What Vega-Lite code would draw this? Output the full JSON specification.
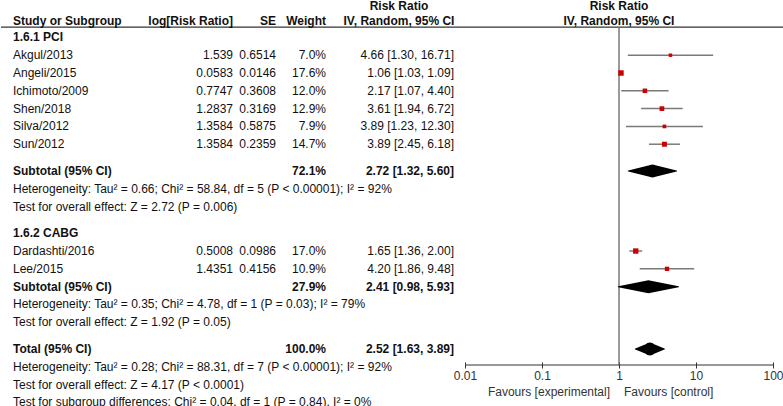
{
  "$schema": "https://vega.github.io/schema/vega-lite/v6.json",
  "width": 783,
  "height": 365,
  "padding": 0,
  "autosize": {"type": "pad"},
  "background": "white",
  "config": {
    "view": {"stroke": null},
    "font": "Liberation Sans",
    "text": {"font": "Liberation Sans", "fontSize": 12, "color": "#111", "baseline": "middle"}
  },
  "datasets": {
    "rows": [
      {"row": 1, "type": "heading", "label": "1.6.1 PCI"},
      {"row": 2, "type": "study", "label": "Akgul/2013", "logrr": "1.539", "se": "0.6514", "weight": "7.0%", "ci": "4.66 [1.30, 16.71]", "rr": 4.66, "lo": 1.30, "hi": 16.71, "w": 7.0},
      {"row": 3, "type": "study", "label": "Angeli/2015", "logrr": "0.0583", "se": "0.0146", "weight": "17.6%", "ci": "1.06 [1.03, 1.09]", "rr": 1.06, "lo": 1.03, "hi": 1.09, "w": 17.6},
      {"row": 4, "type": "study", "label": "Ichimoto/2009", "logrr": "0.7747", "se": "0.3608", "weight": "12.0%", "ci": "2.17 [1.07, 4.40]", "rr": 2.17, "lo": 1.07, "hi": 4.40, "w": 12.0},
      {"row": 5, "type": "study", "label": "Shen/2018", "logrr": "1.2837", "se": "0.3169", "weight": "12.9%", "ci": "3.61 [1.94, 6.72]", "rr": 3.61, "lo": 1.94, "hi": 6.72, "w": 12.9},
      {"row": 6, "type": "study", "label": "Silva/2012", "logrr": "1.3584", "se": "0.5875", "weight": "7.9%", "ci": "3.89 [1.23, 12.30]", "rr": 3.89, "lo": 1.23, "hi": 12.30, "w": 7.9},
      {"row": 7, "type": "study", "label": "Sun/2012", "logrr": "1.3584", "se": "0.2359", "weight": "14.7%", "ci": "3.89 [2.45, 6.18]", "rr": 3.89, "lo": 2.45, "hi": 6.18, "w": 14.7},
      {"row": 8.5, "type": "subtotal", "label": "Subtotal (95% CI)", "weight": "72.1%", "ci": "2.72 [1.32, 5.60]", "rr": 2.72, "lo": 1.32, "hi": 5.60},
      {"row": 9.5, "type": "note", "label": "Heterogeneity: Tau² = 0.66; Chi² = 58.84, df = 5 (P < 0.00001); I² = 92%"},
      {"row": 10.5, "type": "note", "label": "Test for overall effect: Z = 2.72 (P = 0.006)"},
      {"row": 12, "type": "heading", "label": "1.6.2 CABG"},
      {"row": 13, "type": "study", "label": "Dardashti/2016", "logrr": "0.5008", "se": "0.0986", "weight": "17.0%", "ci": "1.65 [1.36, 2.00]", "rr": 1.65, "lo": 1.36, "hi": 2.00, "w": 17.0},
      {"row": 14, "type": "study", "label": "Lee/2015", "logrr": "1.4351", "se": "0.4156", "weight": "10.9%", "ci": "4.20 [1.86, 9.48]", "rr": 4.20, "lo": 1.86, "hi": 9.48, "w": 10.9},
      {"row": 15, "type": "subtotal", "label": "Subtotal (95% CI)", "weight": "27.9%", "ci": "2.41 [0.98, 5.93]", "rr": 2.41, "lo": 0.98, "hi": 5.93},
      {"row": 16, "type": "note", "label": "Heterogeneity: Tau² = 0.35; Chi² = 4.78, df = 1 (P = 0.03); I² = 79%"},
      {"row": 17, "type": "note", "label": "Test for overall effect: Z = 1.92 (P = 0.05)"},
      {"row": 18.5, "type": "total", "label": "Total (95% CI)", "weight": "100.0%", "ci": "2.52 [1.63, 3.89]", "rr": 2.52, "lo": 1.63, "hi": 3.89},
      {"row": 19.5, "type": "note", "label": "Heterogeneity: Tau² = 0.28; Chi² = 88.31, df = 7 (P < 0.00001); I² = 92%"},
      {"row": 20.5, "type": "note", "label": "Test for overall effect: Z = 4.17 (P < 0.0001)"},
      {"row": 21.5, "type": "note", "label": "Test for subgroup differences: Chi² = 0.04, df = 1 (P = 0.84), I² = 0%"}
    ],
    "headers": [
      {"row": -0.74, "text": "Risk Ratio"},
      {"row": 0.1, "text": "IV, Random, 95% CI"}
    ]
  },
  "data": {"name": "rows"},
  "layer": [
    {
      "data": {"values": [{}]},
      "mark": {"type": "rule", "color": "#333", "strokeWidth": 1.2},
      "encoding": {
        "y": {"datum": 0.42, "type": "quantitative", "scale": {"domain": [-1.1, 19.4], "reverse": true, "nice": false, "zero": false}, "axis": null}
      }
    },
    {
      "data": {"values": [{}]},
      "mark": {"type": "rule", "color": "#6f6f6f", "strokeWidth": 1.4},
      "encoding": {
        "x": {"datum": 1, "type": "quantitative", "scale": {"type": "log", "domain": [0.01, 100], "range": [464, 772]}, "axis": {"values": [0.01, 0.1, 1, 10, 100], "format": "~g", "title": null, "domain": false, "grid": false, "tickSize": 6, "tickColor": "#333", "tickWidth": 1, "offset": -3, "labelFontSize": 12, "labelColor": "#333", "labelFont": "Liberation Sans", "labelPadding": 2, "labelFlush": false, "labelOverlap": false}},
        "y": {"datum": 0.42, "type": "quantitative", "scale": {"domain": [-1.1, 19.4], "reverse": true, "nice": false, "zero": false}, "axis": null},
        "y2": {"datum": 19.4}
      }
    },
    {
      "data": {"values": [{}]},
      "mark": {"type": "rule", "color": "#333", "strokeWidth": 1.2},
      "encoding": {
        "x": {"datum": 0.01, "type": "quantitative", "scale": {"type": "log", "domain": [0.01, 100], "range": [464, 772]}, "axis": {"values": [0.01, 0.1, 1, 10, 100], "format": "~g", "title": null, "domain": false, "grid": false, "tickSize": 6, "tickColor": "#333", "tickWidth": 1, "offset": -3, "labelFontSize": 12, "labelColor": "#333", "labelFont": "Liberation Sans", "labelPadding": 2, "labelFlush": false, "labelOverlap": false}},
        "x2": {"datum": 100},
        "y": {"datum": 19.4, "type": "quantitative", "scale": {"domain": [-1.1, 19.4], "reverse": true, "nice": false, "zero": false}, "axis": null}
      }
    },
    {
      "transform": [{"filter": "datum.type === 'study'"}],
      "mark": {"type": "rule", "color": "#7a7a7a", "strokeWidth": 1.5},
      "encoding": {
        "x": {"field": "lo", "type": "quantitative", "scale": {"type": "log", "domain": [0.01, 100], "range": [464, 772]}, "axis": {"values": [0.01, 0.1, 1, 10, 100], "format": "~g", "title": null, "domain": false, "grid": false, "tickSize": 6, "tickColor": "#333", "tickWidth": 1, "offset": -3, "labelFontSize": 12, "labelColor": "#333", "labelFont": "Liberation Sans", "labelPadding": 2, "labelFlush": false, "labelOverlap": false}},
        "x2": {"field": "hi"},
        "y": {"field": "row", "type": "quantitative", "scale": {"domain": [-1.1, 19.4], "reverse": true, "nice": false, "zero": false}, "axis": null}
      }
    },
    {
      "transform": [{"filter": "datum.type === 'study'"}],
      "mark": {"type": "square", "filled": true, "color": "#cc0000", "opacity": 1},
      "encoding": {
        "x": {"field": "rr", "type": "quantitative", "scale": {"type": "log", "domain": [0.01, 100], "range": [464, 772]}, "axis": {"values": [0.01, 0.1, 1, 10, 100], "format": "~g", "title": null, "domain": false, "grid": false, "tickSize": 6, "tickColor": "#333", "tickWidth": 1, "offset": -3, "labelFontSize": 12, "labelColor": "#333", "labelFont": "Liberation Sans", "labelPadding": 2, "labelFlush": false, "labelOverlap": false}},
        "y": {"field": "row", "type": "quantitative", "scale": {"domain": [-1.1, 19.4], "reverse": true, "nice": false, "zero": false}, "axis": null},
        "size": {"field": "w", "type": "quantitative", "scale": {"domain": [0, 17.6], "range": [0, 30]}, "legend": null}
      }
    },
    {
      "transform": [
        {"filter": "datum.type === 'subtotal' || datum.type === 'total'"},
        {"fold": ["lo", "rr", "hi"], "as": ["k", "v"]}
      ],
      "mark": {"type": "trail", "color": "#000"},
      "encoding": {
        "x": {"field": "v", "type": "quantitative", "scale": {"type": "log", "domain": [0.01, 100], "range": [464, 772]}, "axis": {"values": [0.01, 0.1, 1, 10, 100], "format": "~g", "title": null, "domain": false, "grid": false, "tickSize": 6, "tickColor": "#333", "tickWidth": 1, "offset": -3, "labelFontSize": 12, "labelColor": "#333", "labelFont": "Liberation Sans", "labelPadding": 2, "labelFlush": false, "labelOverlap": false}},
        "y": {"field": "row", "type": "quantitative", "scale": {"domain": [-1.1, 19.4], "reverse": true, "nice": false, "zero": false}, "axis": null},
        "detail": {"field": "row", "type": "nominal"},
        "order": {"field": "v", "type": "quantitative"},
        "size": {"field": "k", "type": "nominal", "scale": {"type": "ordinal", "domain": ["lo", "rr", "hi"], "range": [0, 13, 0]}, "legend": null}
      }
    },
    {
      "transform": [{"filter": "datum.type === 'study' || datum.type === 'note'"}],
      "mark": {"type": "text", "align": "left"},
      "encoding": {
        "x": {"value": 12},
        "y": {"field": "row", "type": "quantitative", "scale": {"domain": [-1.1, 19.4], "reverse": true, "nice": false, "zero": false}, "axis": null},
        "text": {"field": "label"}
      }
    },
    {
      "transform": [{"filter": "datum.type === 'heading' || datum.type === 'subtotal' || datum.type === 'total'"}],
      "mark": {"type": "text", "align": "left", "fontWeight": "bold"},
      "encoding": {
        "x": {"value": 12},
        "y": {"field": "row", "type": "quantitative", "scale": {"domain": [-1.1, 19.4], "reverse": true, "nice": false, "zero": false}, "axis": null},
        "text": {"field": "label"}
      }
    },
    {
      "transform": [{"filter": "datum.type === 'study'"}],
      "mark": {"type": "text", "align": "right"},
      "encoding": {
        "x": {"value": 232},
        "y": {"field": "row", "type": "quantitative", "scale": {"domain": [-1.1, 19.4], "reverse": true, "nice": false, "zero": false}, "axis": null},
        "text": {"field": "logrr"}
      }
    },
    {
      "transform": [{"filter": "datum.type === 'study'"}],
      "mark": {"type": "text", "align": "right"},
      "encoding": {
        "x": {"value": 275},
        "y": {"field": "row", "type": "quantitative", "scale": {"domain": [-1.1, 19.4], "reverse": true, "nice": false, "zero": false}, "axis": null},
        "text": {"field": "se"}
      }
    },
    {
      "transform": [{"filter": "datum.type === 'study'"}],
      "mark": {"type": "text", "align": "right"},
      "encoding": {
        "x": {"value": 325},
        "y": {"field": "row", "type": "quantitative", "scale": {"domain": [-1.1, 19.4], "reverse": true, "nice": false, "zero": false}, "axis": null},
        "text": {"field": "weight"}
      }
    },
    {
      "transform": [{"filter": "datum.type === 'study'"}],
      "mark": {"type": "text", "align": "right"},
      "encoding": {
        "x": {"value": 453},
        "y": {"field": "row", "type": "quantitative", "scale": {"domain": [-1.1, 19.4], "reverse": true, "nice": false, "zero": false}, "axis": null},
        "text": {"field": "ci"}
      }
    },
    {
      "transform": [{"filter": "datum.type === 'subtotal' || datum.type === 'total'"}],
      "mark": {"type": "text", "align": "right", "fontWeight": "bold"},
      "encoding": {
        "x": {"value": 325},
        "y": {"field": "row", "type": "quantitative", "scale": {"domain": [-1.1, 19.4], "reverse": true, "nice": false, "zero": false}, "axis": null},
        "text": {"field": "weight"}
      }
    },
    {
      "transform": [{"filter": "datum.type === 'subtotal' || datum.type === 'total'"}],
      "mark": {"type": "text", "align": "right", "fontWeight": "bold"},
      "encoding": {
        "x": {"value": 453},
        "y": {"field": "row", "type": "quantitative", "scale": {"domain": [-1.1, 19.4], "reverse": true, "nice": false, "zero": false}, "axis": null},
        "text": {"field": "ci"}
      }
    },
    {
      "data": {"values": [{}]},
      "mark": {"type": "text", "align": "left", "fontWeight": "bold"},
      "encoding": {
        "x": {"value": 12},
        "y": {"datum": 0.1, "type": "quantitative", "scale": {"domain": [-1.1, 19.4], "reverse": true, "nice": false, "zero": false}, "axis": null},
        "text": {"value": "Study or Subgroup"}
      }
    },
    {
      "data": {"values": [{}]},
      "mark": {"type": "text", "align": "right", "fontWeight": "bold"},
      "encoding": {
        "x": {"value": 232},
        "y": {"datum": 0.1, "type": "quantitative", "scale": {"domain": [-1.1, 19.4], "reverse": true, "nice": false, "zero": false}, "axis": null},
        "text": {"value": "log[Risk Ratio]"}
      }
    },
    {
      "data": {"values": [{}]},
      "mark": {"type": "text", "align": "right", "fontWeight": "bold"},
      "encoding": {
        "x": {"value": 275},
        "y": {"datum": 0.1, "type": "quantitative", "scale": {"domain": [-1.1, 19.4], "reverse": true, "nice": false, "zero": false}, "axis": null},
        "text": {"value": "SE"}
      }
    },
    {
      "data": {"values": [{}]},
      "mark": {"type": "text", "align": "right", "fontWeight": "bold"},
      "encoding": {
        "x": {"value": 325},
        "y": {"datum": 0.1, "type": "quantitative", "scale": {"domain": [-1.1, 19.4], "reverse": true, "nice": false, "zero": false}, "axis": null},
        "text": {"value": "Weight"}
      }
    },
    {
      "data": {"name": "headers"},
      "mark": {"type": "text", "align": "center", "fontWeight": "bold"},
      "encoding": {
        "x": {"value": 398},
        "y": {"field": "row", "type": "quantitative", "scale": {"domain": [-1.1, 19.4], "reverse": true, "nice": false, "zero": false}, "axis": null},
        "text": {"field": "text"}
      }
    },
    {
      "data": {"name": "headers"},
      "mark": {"type": "text", "align": "center", "fontWeight": "bold"},
      "encoding": {
        "x": {"datum": 1, "type": "quantitative", "scale": {"type": "log", "domain": [0.01, 100], "range": [464, 772]}, "axis": {"values": [0.01, 0.1, 1, 10, 100], "format": "~g", "title": null, "domain": false, "grid": false, "tickSize": 6, "tickColor": "#333", "tickWidth": 1, "offset": -3, "labelFontSize": 12, "labelColor": "#333", "labelFont": "Liberation Sans", "labelPadding": 2, "labelFlush": false, "labelOverlap": false}},
        "y": {"field": "row", "type": "quantitative", "scale": {"domain": [-1.1, 19.4], "reverse": true, "nice": false, "zero": false}, "axis": null},
        "text": {"field": "text"}
      }
    },
    {
      "data": {"values": [{}]},
      "mark": {"type": "text", "align": "right", "dx": -9, "color": "#333"},
      "encoding": {
        "x": {"datum": 1, "type": "quantitative", "scale": {"type": "log", "domain": [0.01, 100], "range": [464, 772]}, "axis": {"values": [0.01, 0.1, 1, 10, 100], "format": "~g", "title": null, "domain": false, "grid": false, "tickSize": 6, "tickColor": "#333", "tickWidth": 1, "offset": -3, "labelFontSize": 12, "labelColor": "#333", "labelFont": "Liberation Sans", "labelPadding": 2, "labelFlush": false, "labelOverlap": false}},
        "y": {"datum": 20.92, "type": "quantitative", "scale": {"domain": [-1.1, 19.4], "reverse": true, "nice": false, "zero": false}, "axis": null},
        "text": {"value": "Favours [experimental]"}
      }
    },
    {
      "data": {"values": [{}]},
      "mark": {"type": "text", "align": "left", "dx": 5, "color": "#333"},
      "encoding": {
        "x": {"datum": 1, "type": "quantitative", "scale": {"type": "log", "domain": [0.01, 100], "range": [464, 772]}, "axis": {"values": [0.01, 0.1, 1, 10, 100], "format": "~g", "title": null, "domain": false, "grid": false, "tickSize": 6, "tickColor": "#333", "tickWidth": 1, "offset": -3, "labelFontSize": 12, "labelColor": "#333", "labelFont": "Liberation Sans", "labelPadding": 2, "labelFlush": false, "labelOverlap": false}},
        "y": {"datum": 20.92, "type": "quantitative", "scale": {"domain": [-1.1, 19.4], "reverse": true, "nice": false, "zero": false}, "axis": null},
        "text": {"value": "Favours [control]"}
      }
    }
  ]
}
